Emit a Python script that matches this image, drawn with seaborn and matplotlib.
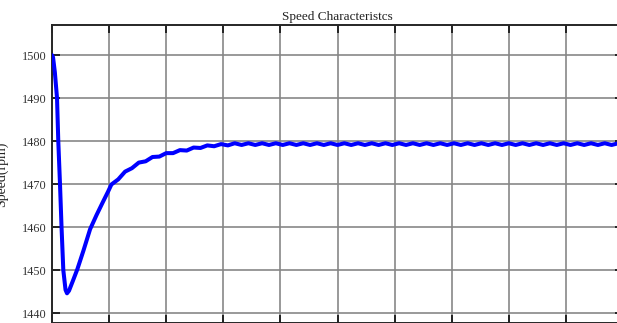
import matplotlib
matplotlib.use("Agg")
import matplotlib.pyplot as plt
import seaborn as sns
import pandas as pd

# Rotor speed response after the load step (time in ms, speed in rpm)
time_ms = [
    0, 1.8, 5, 8.8, 11, 14, 16.7, 19.8, 23.7, 26.3, 29.8, 36.3, 44.4, 55,
    66.7, 78, 89, 98,
    104, 116, 128, 140, 152, 164, 176, 188, 200, 212, 224, 236, 248, 260,
    272, 284, 296, 308,
    320, 332, 344, 356, 368, 380, 392, 404, 416, 428, 440, 452, 464, 476,
    488, 500, 512, 524, 536, 548, 560, 572, 584, 596, 608, 620, 632, 644,
    656, 668, 680, 692, 704, 716, 728, 740, 752, 764, 776, 788, 800, 812,
    824, 836, 848, 860, 872, 884, 896, 908, 920, 932, 944, 956, 968, 980,
    992, 1004, 1016, 1028, 1040, 1052,
]
speed_rpm = [
    1500.0, 1499.5, 1496.0, 1490.0, 1480.0, 1470.0, 1460.0, 1450.0, 1445.4,
    1444.6, 1445.2, 1447.4, 1450.2, 1454.5,
    1459.5, 1462.8, 1465.8, 1468.2,
    1469.9, 1471.1, 1472.9, 1473.7, 1475.0, 1475.3, 1476.3, 1476.4, 1477.2,
    1477.2, 1477.9, 1477.8, 1478.5, 1478.4, 1479.0, 1478.8, 1479.3, 1479.0,
    1479.5, 1479.1, 1479.5, 1479.1, 1479.5, 1479.1, 1479.5, 1479.1, 1479.5,
    1479.1, 1479.5, 1479.1, 1479.5, 1479.1, 1479.5, 1479.1, 1479.5, 1479.1,
    1479.5, 1479.1, 1479.5, 1479.1, 1479.5, 1479.1, 1479.5, 1479.1, 1479.5,
    1479.1, 1479.5, 1479.1, 1479.5, 1479.1, 1479.5, 1479.1, 1479.5, 1479.1,
    1479.5, 1479.1, 1479.5, 1479.1, 1479.5, 1479.1, 1479.5, 1479.1, 1479.5,
    1479.1, 1479.5, 1479.1, 1479.5, 1479.1, 1479.5, 1479.1, 1479.5, 1479.1,
    1479.5, 1479.1, 1479.5, 1479.1, 1479.5, 1479.1, 1479.5, 1479.1,
]
y_ticks = [1440, 1450, 1460, 1470, 1480, 1490, 1500]
x_ticks = [0, 100, 200, 300, 400, 500, 600, 700, 800, 900, 1000]

sns.set_style("white")
plt.rcParams["font.family"] = ["Liberation Serif", "DejaVu Serif"]

W, H, DPI = 617, 323, 100
fig = plt.figure(figsize=(W / DPI, H / DPI), dpi=DPI)
# axes box in pixel terms: left 52, top 25, right ~623, bottom ~323.4
left, right, top, bottom = 52, 623, 25, 323.4
ax = fig.add_axes([left / W, (H - bottom) / H, (right - left) / W, (bottom - top) / H])

df = pd.DataFrame({"time": time_ms, "speed": speed_rpm})
sns.lineplot(data=df, x="time", y="speed", color="#0000ff", lw=2.9, ax=ax,
             sort=False, zorder=3)

ax.set_xlim(0, 1000)
ax.set_ylim(1437.6, 1507.0)
ax.set_xticks(x_ticks)
ax.set_yticks(y_ticks)
ax.set_xticklabels([])
ax.set_yticklabels([str(v) for v in y_ticks], fontsize=8.8, color="#333333")

ax.grid(True, color="#858585", lw=1.3, alpha=0.9)
ax.set_axisbelow(True)
for side in ("left", "top", "bottom", "right"):
    ax.spines[side].set_color("#262626")
    ax.spines[side].set_linewidth(1.4)

ax.tick_params(axis="both", which="both", direction="in", length=5.5, width=1.3,
               color="#1a1a1a", top=True, bottom=True, left=True, right=True)
ax.tick_params(axis="y", pad=4)

ax.set_xlabel("")
ax.set_ylabel("Speed(rpm)", fontsize=10, color="#222222")
ax.yaxis.set_label_coords((8 - left) / (right - left), 0.5)
ax.set_title("Speed Characteristcs", fontsize=9.5, color="#222222", pad=3.5)

fig.savefig("out.png", dpi=DPI, facecolor="white")
